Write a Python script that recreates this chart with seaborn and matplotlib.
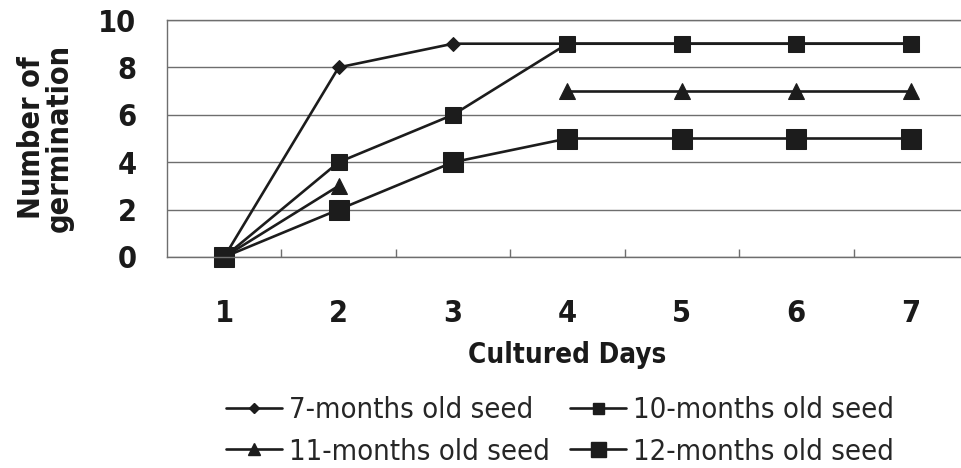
import numpy as np
import pandas as pd
import matplotlib
matplotlib.use("Agg")
import matplotlib.pyplot as plt
from matplotlib import font_manager
import seaborn as sns

days = [1, 2, 3, 4, 5, 6, 7]
seed_7m = [0, 8, 9, 9, 9, 9, 9]
seed_10m = [0, 4, 6, 9, 9, 9, 9]
seed_11m = [0, 3, np.nan, 7, 7, 7, 7]
seed_12m = [0, 2, 4, 5, 5, 5, 5]
series_names = ["7-months old seed", "10-months old seed",
                "11-months old seed", "12-months old seed"]
y_ticks = [0, 2, 4, 6, 8, 10]

sns.set_theme(style="white")
installed = {f.name for f in font_manager.fontManager.ttflist}
narrow = [n for n in ["Liberation Sans Narrow", "DejaVu Sans"] if n in installed]
plt.rcParams["font.family"] = narrow + ["DejaVu Sans"]
plt.rcParams["font.stretch"] = "condensed"

fig = plt.figure(figsize=(9.62, 4.68), dpi=100)
ax = fig.add_axes([167 / 962, 1 - 257 / 468, 801 / 962, 237 / 468])

ink = "#1c1c1c"
styles = [
    dict(marker="D", markersize=7.5),
    dict(marker="s", markersize=11),
    dict(marker="^", markersize=12),
    dict(marker="s", markersize=15),
]
values = [seed_7m, seed_10m, seed_11m, seed_12m]

handles = []
for name, vals, st in zip(series_names, values, styles):
    v = np.asarray(vals, dtype=float)
    # split into contiguous runs so missing days leave a gap in the line
    seg = np.cumsum(np.isnan(v))
    df = pd.DataFrame({"day": days, "n": v, "seg": seg}).dropna()
    sns.lineplot(data=df, x="day", y="n", units="seg", estimator=None,
                 ax=ax, color=ink, linewidth=1.9, marker=st["marker"],
                 markersize=st["markersize"], markeredgecolor=ink,
                 markerfacecolor=ink, legend=False, clip_on=False)
    handles.append(plt.Line2D([], [], color=ink, linewidth=1.9,
                              marker=st["marker"],
                              markersize=st["markersize"] * 0.72,
                              markerfacecolor=ink, markeredgecolor=ink))

ax.set_xlim(0.5, 7.5)
ax.set_ylim(0, 10)
ax.set_yticks(y_ticks)
ax.set_xticks(days)
ax.set_xticks([d + 0.5 for d in days[:-1]], minor=True)
ax.yaxis.grid(True, color="#6e6e6e", linewidth=1.0)
ax.xaxis.grid(False)
ax.set_axisbelow(True)
for side in ["left", "bottom", "top", "right"]:
    ax.spines[side].set_color("#6e6e6e")
    ax.spines[side].set_linewidth(1.0)

ax.tick_params(axis="x", which="major", length=0, pad=30, labelsize=22)
ax.tick_params(axis="x", which="minor", direction="in", length=6,
               width=1.0, color="#6e6e6e", bottom=True)
ax.tick_params(axis="y", which="major", length=0, pad=22, labelsize=22)
for lab in ax.get_xticklabels() + ax.get_yticklabels():
    lab.set_fontweight("bold")
    lab.set_color("#1a1a1a")

ax.set_xlabel("")
ax.set_ylabel("")
fig.text(567 / 962, 1 - 355 / 468, "Cultured Days", ha="center",
         va="center", fontsize=20, fontweight="bold", color="#1a1a1a")
fig.text(45 / 962, 1 - 138 / 468, "Number of\ngermination", ha="center",
         va="center", rotation=90, fontsize=22, fontweight="bold",
         color="#1a1a1a", linespacing=0.95)

# two rows: 7 & 10 months on top, 11 & 12 months below
order = [0, 2, 1, 3]
fig.legend([handles[i] for i in order], [series_names[i] for i in order],
           loc="center", ncol=2, bbox_to_anchor=(560 / 962, 1 - 431 / 468),
           frameon=False, fontsize=21, handlelength=1.9, handletextpad=0.25,
           columnspacing=0.7, labelspacing=0.45)

fig.savefig("out.png", dpi=100)
